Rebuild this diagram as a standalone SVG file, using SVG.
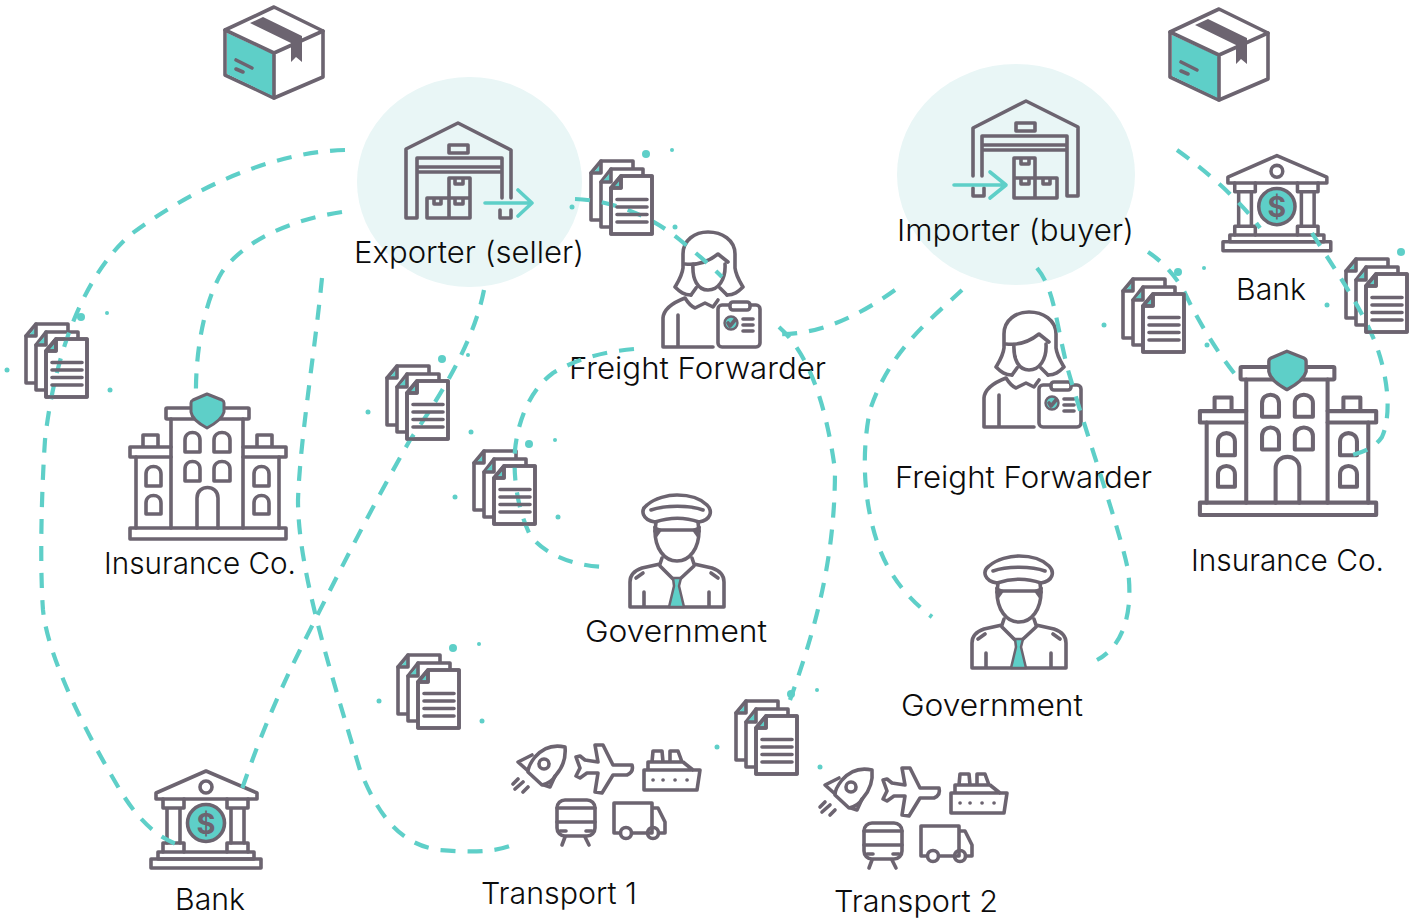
<svg xmlns="http://www.w3.org/2000/svg" width="1421" height="918" viewBox="0 0 1421 918">
<style>
.i{fill:none;stroke:#6c6470;stroke-width:3.600;stroke-linejoin:round;stroke-linecap:round}
.w{fill:#fff}
.t{fill:#5ecfc8}
.a{fill:none;stroke:#5ecfc8;stroke-width:3.600;stroke-linecap:round;stroke-linejoin:round}
.c{fill:none;stroke:#5ecfc8;stroke-width:4.200;stroke-dasharray:15 12}
.d{fill:#5ecfc8}
.l{font-family:Inter,"Liberation Sans",sans-serif;font-weight:300;font-size:30px;fill:#0c0c0c}
.bg{fill:#e9f6f6}
</style>
<defs>
<g id="doc">
<path class="i w" d="M1 13L11 1H43V60H1Z"/><path class="t" d="M3 13L11 4V13Z"/><path class="i" d="M1 13H11V1"/>
<path class="i w" d="M11 22L21 9H53V67H11Z"/><path class="t" d="M13 21L21 12V21Z"/><path class="i" d="M11 22H21V9"/>
<path class="i w" d="M21 28L31 16H62V74H21Z"/><path class="t" d="M23 27L31 19V27Z"/><path class="i" d="M21 28H31V16"/>
<circle class="d" cx="56" cy="-6" r="4"/><circle class="d" cx="82" cy="-10" r="2"/><circle class="d" cx="85" cy="67" r="2.500"/><circle class="d" cx="-18" cy="47" r="2.500"/>
</g>
<g id="doc-ink">
<path class="i" d="M21 28L31 16H62V74H21ZM21 28H31V16"/>
<path class="i" d="M27 39.500H57M27 47H57M27 54.500H57M27 62H57"/>
</g>
<g id="package">
<path class="i w" d="M274 7L323 31V77L274 98L225 75V30Z" stroke-width="4"/>
<path class="t" d="M227 33L273 54V96L227 74Z"/>
<path class="i" d="M225 30L274 53L323 31M274 53V98" stroke-width="4"/>
<path d="M250 23L263 17L302 36V62L296 57L291 62V43Z" fill="#6c6470"/>
<path class="i" d="M236 60L252 68M236 69L243 72"/>
</g>
<g id="warehouse">
<path class="i" d="M511 198V150L458 123L406 149V218H417V158H502V198M417 167H502M417 172H502M500 210V218H511V210"/>
<rect class="i" x="449" y="145" width="19" height="8"/>
</g>
<g id="boxes">
<path class="i" d="M0 20H22V0H43V40H0ZM22 20V40M22 20H43M7 20V26H14V20M28 20V26H36V20M28 0V6H36V0"/>
</g>
<g id="woman">
<path class="i" d="M663 347V318Q664 306 685 298Q690 306 695 308L705 303L713 307L718 300M663 347H713M678 315V347"/>
<path class="i" d="M683 268V254C683 240 695 232 708 232C722 232 735 240 735 254V268C736 276 740 282 743 287C738 292 734 295 727 295M683 268C682 276 678 282 675 287C680 292 684 295 691 295"/>
<path class="i" d="M685 264Q703 266 718 254L728 262M693 264C692 280 698 290 708 290C718 290 726 280 725 264M691 295L696 288M727 295L720 288"/>
<rect class="i w" x="718" y="305" width="42" height="42" rx="4"/>
<rect class="i w" x="730" y="302" width="20" height="8" rx="3"/>
<circle cx="731" cy="323" r="6.500" fill="#5ecfc8" stroke="#6c6470" stroke-width="2.400"/>
<path class="i" d="M728 323L730 326L735 320" stroke-width="2"/>
<path class="i" d="M743 319H753M743 325H753M743 331H753" stroke-width="2.400"/>
</g>
<g id="insurance">
<rect class="i w" x="130" y="528" width="156" height="11"/>
<path class="i" d="M136 457V528M279 457V528M171 419V528M243 419V528M197 528V498C197 484 218 484 218 498V528"/>
<rect class="i" x="166" y="408" width="83" height="11" rx="1"/>
<path class="i" d="M171 447H130V457H171M243 447H286V457H243M143 447V435H158V447M257 447V435H272V447"/>
<path class="i" d="M185 452V440C185 430 200 430 200 440V452ZM214 452V440C214 430 230 430 230 440V452ZM185 481V469C185 459 200 459 200 469V481ZM214 481V469C214 459 230 459 230 469V481ZM146 486V474C146 464 161 464 161 474V486ZM146 514V503C146 493 161 493 161 503V514ZM254 486V474C254 464 269 464 269 474V486ZM254 514V503C254 493 269 493 269 503V514Z"/>
<path d="M207 394L222 400Q224 401 224 403V412Q222 420 207 428Q192 420 191 412V403Q191 401 193 400Z" fill="#5ecfc8" stroke="#6c6470" stroke-width="3" stroke-linejoin="round"/>
</g>
<g id="bank">
<path class="i" d="M156 793L206 771L257 793V799H156Z"/>
<circle class="i" cx="206" cy="787" r="6"/>
<path class="i" d="M163 799V808H184V799M227 799V808H248V799M167 808V843M180 808V843M231 808V843M244 808V843"/>
<path class="i" d="M163 852V843H184V852M227 852V843H248V852"/>
<rect class="i" x="158" y="852" width="96" height="7"/>
<rect class="i" x="151" y="859" width="110" height="9"/>
<circle cx="206" cy="823" r="18.500" fill="#5ecfc8" stroke="#6c6470" stroke-width="3.600"/>
<text x="206" y="834" text-anchor="middle" font-family="Inter,'Liberation Sans',sans-serif" font-weight="700" font-size="29" fill="#6c6470">$</text>
</g>
<g id="officer">
<path class="i" d="M655 522C642 520 640 510 647 505C655 498 668 495 677 495C688 495 700 498 707 505C713 511 711 520 699 522C685 517 670 517 655 522Z"/>
<path class="i" d="M651 510C665 505 690 505 703 510M656 522L655 531M698 522L699 531M655 530H699"/>
<path class="i" d="M655 531C655 548 664 561 677 561C690 561 699 548 699 531"/>
<path d="M654 527L661 530L656 537Z" fill="#6c6470" stroke="#6c6470" stroke-width="2" stroke-linejoin="round"/>
<path d="M700 527L693 530L698 537Z" fill="#6c6470" stroke="#6c6470" stroke-width="2" stroke-linejoin="round"/>
<path class="i" d="M630 607V582Q630 572 642 568L660 564L662 558M724 607V582Q724 572 712 568L694 564L692 558M630 607H724M644 592V607M709 592V607"/>
<path class="i" d="M660 566L673 579L680 579L694 566M636 578L643 573M718 578L711 573"/>
<path d="M673 578H681L679 586L684 607H669L674 586Z" fill="#5ecfc8" stroke="#6c6470" stroke-width="2.500" stroke-linejoin="round"/>
</g>
<g id="transport">
<path class="i" d="M565 747C552 744 542 749 535 757C531 762 528 768 528 772L542 785C548 784 553 780 556 775C563 767 566 757 565 747Z"/>
<circle class="i" cx="544" cy="764" r="5"/>
<path class="i" d="M532 755L518 762L527 770M555 776L550 787L544 785M513 784L518 779M515 789L523 782M523 792L528 787"/>
<path class="i" d="M632 765H613L603 745H595L598 762L585 760L580 756L576 757L580 768L576 776L580 778L587 773H598L595 792L602 793L613 775H627Q634 772 632 765Z"/>
<path class="i" d="M644 770H700L697 790H644ZM648 770V762H683L693 770M652 762L653 751H662L663 762M670 762V751H678L682 762"/>
<path class="i" d="M653 780H653.100M663 780H663.100M675 780H675.100M687 780H687.100" stroke-width="4"/>
<rect class="i" x="557" y="800" width="38" height="36" rx="8"/>
<path class="i" d="M557 808H595M557 822H595M560 831H566M586 831H592M565 837L562 845M585 837L589 845"/>
<path class="i" d="M620 833H614V803H652V833H633M652 808H658L665 822V833H660"/>
<circle class="i" cx="626" cy="833" r="5.500"/><circle class="i" cx="653" cy="833" r="5.500"/>
</g>
</defs>
<ellipse class="bg" cx="469.500" cy="182" rx="112.500" ry="105"/>
<ellipse class="bg" cx="1016" cy="174.500" rx="119" ry="110.500"/>
<g id="package-left"><use href="#package"/></g>
<g id="package-right"><use href="#package" transform="translate(945 2)"/></g>
<g id="exporter"><use href="#warehouse"/><use href="#boxes" transform="translate(427 178)"/><path class="a" d="M485 203H532M518 190L532 203L518 216"/><text class="l" x="354" y="263" textLength="230" lengthAdjust="spacingAndGlyphs">Exporter (seller)</text></g>
<g id="importer"><use href="#warehouse" transform="matrix(-1 0 0 1 1484 -22)"/><use href="#boxes" transform="matrix(-1 0 0 1 1057 158)"/><path class="a" d="M954 185H1006M990 172L1006 185L990 198"/><text class="l" x="897" y="241" textLength="237" lengthAdjust="spacingAndGlyphs">Importer (buyer)</text></g>
<g id="freight-1"><use href="#woman"/><text class="l" x="569" y="379" textLength="257" lengthAdjust="spacingAndGlyphs">Freight Forwarder</text></g>
<g id="freight-2"><use href="#woman" transform="translate(321 80)"/><text class="l" x="895" y="488" textLength="257" lengthAdjust="spacingAndGlyphs">Freight Forwarder</text></g>
<g id="insurance-1"><use href="#insurance"/><text class="l" x="104" y="574" textLength="192" lengthAdjust="spacingAndGlyphs">Insurance Co.</text></g>
<g id="insurance-2"><use href="#insurance" transform="translate(1053 -94) scale(1.13)"/><text class="l" x="1191" y="571" textLength="193" lengthAdjust="spacingAndGlyphs">Insurance Co.</text></g>
<g id="government-1"><use href="#officer"/><text class="l" x="585" y="642" textLength="182" lengthAdjust="spacingAndGlyphs">Government</text></g>
<g id="government-2"><use href="#officer" transform="translate(342 61)"/><text class="l" x="901" y="716" textLength="182" lengthAdjust="spacingAndGlyphs">Government</text></g>
<g id="bank-1"><use href="#bank"/><text class="l" x="175" y="910" textLength="70" lengthAdjust="spacingAndGlyphs">Bank</text></g>
<g id="bank-2"><use href="#bank" transform="translate(1075 -600) scale(.98)"/><text class="l" x="1236" y="300" textLength="70" lengthAdjust="spacingAndGlyphs">Bank</text></g>
<g id="transport-1"><use href="#transport"/><text class="l" x="481" y="904" textLength="156" lengthAdjust="spacingAndGlyphs">Transport 1</text></g>
<g id="transport-2"><use href="#transport" transform="translate(307 23)"/><text class="l" x="834" y="912" textLength="164" lengthAdjust="spacingAndGlyphs">Transport 2</text></g>
<g id="doc-1"><use href="#doc" transform="translate(25 323)"/></g>
<g id="doc-2"><use href="#doc" transform="translate(590 160)"/></g>
<g id="doc-3"><use href="#doc" transform="translate(386 365)"/></g>
<g id="doc-4"><use href="#doc" transform="translate(473 450)"/></g>
<g id="doc-5"><use href="#doc" transform="translate(397 654)"/></g>
<g id="doc-6"><use href="#doc" transform="translate(735 700)"/></g>
<g id="doc-7"><use href="#doc" transform="translate(1122 278)"/></g>
<g id="doc-8"><use href="#doc" transform="translate(1345 258)"/></g>
<g id="connectors">
<path class="c" d="M345 150C270 152 190 190 130 235C85 275 55 350 45 440C41 500 40 570 43 610C48 660 90 740 120 790C135 815 155 838 182 846"/>
<path class="c" d="M342 212C290 220 245 240 222 272C205 300 195 350 196 398"/>
<path class="c" d="M322 278C315 350 300 440 298 500C298 570 330 670 360 770C378 815 400 845 440 850C465 852 490 853 510 846"/>
<path class="c" d="M484 290C476 330 455 375 410 440C370 510 330 590 300 650C275 700 255 750 240 795"/>
<path class="c" d="M575 199C610 200 650 215 680 240C695 252 710 265 722 277"/>
<path class="c" d="M895 290C860 315 820 335 779 334"/>
<path class="c" d="M779 327C805 350 825 395 835 470C835 560 815 630 790 700"/>
<path class="c" d="M634 349C600 352 575 360 553 373C530 390 518 420 515 450C513 480 518 510 530 535C542 552 570 566 605 567"/>
<path class="c" d="M962 290C930 320 890 350 870 410C860 460 865 510 880 550C892 580 910 600 932 617"/>
<path class="c" d="M1037 268C1055 290 1055 320 1068 370C1085 430 1120 530 1128 570C1133 610 1125 645 1097 660"/>
<path class="c" d="M1177 150C1205 170 1240 200 1260 228"/>
<path class="c" d="M1312 233C1335 270 1360 305 1375 342C1388 375 1392 415 1382 437C1373 450 1360 453 1345 457"/>
<path class="c" d="M1148 252C1165 263 1178 280 1185 293C1195 315 1215 350 1238 378"/>
</g>
<g id="doc-inks">
<use href="#doc-ink" transform="translate(25 323)"/>
<use href="#doc-ink" transform="translate(590 160)"/>
<use href="#doc-ink" transform="translate(386 365)"/>
<use href="#doc-ink" transform="translate(473 450)"/>
<use href="#doc-ink" transform="translate(397 654)"/>
<use href="#doc-ink" transform="translate(735 700)"/>
<use href="#doc-ink" transform="translate(1122 278)"/>
<use href="#doc-ink" transform="translate(1345 258)"/>
</g>
</svg>
